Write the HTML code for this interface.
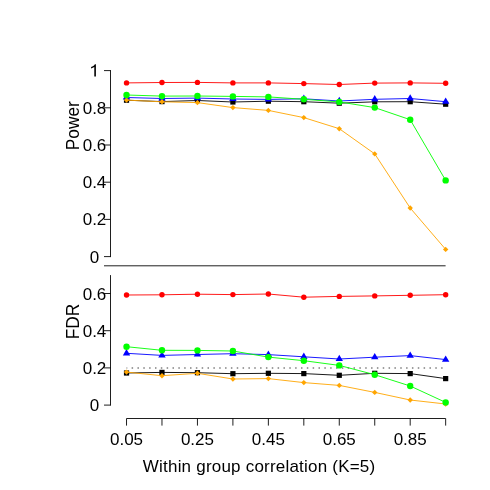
<!DOCTYPE html>
<html><head><meta charset="utf-8"><title>Power and FDR</title>
<style>
html,body{margin:0;padding:0;background:#fff;}
body{width:490px;height:490px;overflow:hidden;}
svg{display:block;will-change:transform;}
text{font-family:"Liberation Sans",sans-serif;font-size:17px;fill:#000;}
</style></head><body>
<svg width="490" height="490" viewBox="0 0 490 490">
<rect width="490" height="490" fill="#fff"/>
<path d="M110.5,70.1 V257.1" stroke="#000" stroke-width="0.88" fill="none"/>
<path d="M104,70.60 H110.5" stroke="#000" stroke-width="0.88" fill="none"/>
<path d="M104,107.80 H110.5" stroke="#000" stroke-width="0.88" fill="none"/>
<path d="M104,145.00 H110.5" stroke="#000" stroke-width="0.88" fill="none"/>
<path d="M104,182.20 H110.5" stroke="#000" stroke-width="0.88" fill="none"/>
<path d="M104,219.40 H110.5" stroke="#000" stroke-width="0.88" fill="none"/>
<path d="M104,256.60 H110.5" stroke="#000" stroke-width="0.88" fill="none"/>
<path d="M95.9,64.3 V76.5 H94.3 V67.0 C93.4,67.6 92.3,68.1 91.1,68.4 V67.0 C92.8,66.5 94.1,65.6 94.9,64.3 Z" fill="#000"/>
<text x="94.5" y="113.70" text-anchor="middle">0.8</text>
<text x="94.5" y="150.90" text-anchor="middle">0.6</text>
<text x="94.5" y="188.10" text-anchor="middle">0.4</text>
<text x="94.5" y="225.30" text-anchor="middle">0.2</text>
<text x="94.5" y="262.50" text-anchor="middle">0</text>
<path d="M104,265.8 H445.6" stroke="#000" stroke-width="0.88" fill="none"/>
<path d="M110.5,275.1 V405.6" stroke="#000" stroke-width="0.88" fill="none"/>
<path d="M104,293.50 H110.5" stroke="#000" stroke-width="0.88" fill="none"/>
<path d="M104,330.70 H110.5" stroke="#000" stroke-width="0.88" fill="none"/>
<path d="M104,367.90 H110.5" stroke="#000" stroke-width="0.88" fill="none"/>
<path d="M104,405.10 H110.5" stroke="#000" stroke-width="0.88" fill="none"/>
<text x="94.5" y="299.60" text-anchor="middle">0.6</text>
<text x="94.5" y="336.80" text-anchor="middle">0.4</text>
<text x="94.5" y="374.00" text-anchor="middle">0.2</text>
<text x="94.5" y="411.20" text-anchor="middle">0</text>
<path d="M126.52,367.9 H443.66" stroke="#7F7F7F" stroke-width="1.5" stroke-dasharray="1.5 4.34" stroke-dashoffset="0.75" fill="none"/>
<path d="M126.52,418.5 H445.66" stroke="#000" stroke-width="0.88" fill="none"/>
<path d="M126.52,418.5 V425.6" stroke="#000" stroke-width="0.88" fill="none"/>
<path d="M161.98,418.5 V425.6" stroke="#000" stroke-width="0.88" fill="none"/>
<path d="M197.44,418.5 V425.6" stroke="#000" stroke-width="0.88" fill="none"/>
<path d="M232.90,418.5 V425.6" stroke="#000" stroke-width="0.88" fill="none"/>
<path d="M268.36,418.5 V425.6" stroke="#000" stroke-width="0.88" fill="none"/>
<path d="M303.82,418.5 V425.6" stroke="#000" stroke-width="0.88" fill="none"/>
<path d="M339.28,418.5 V425.6" stroke="#000" stroke-width="0.88" fill="none"/>
<path d="M374.74,418.5 V425.6" stroke="#000" stroke-width="0.88" fill="none"/>
<path d="M410.20,418.5 V425.6" stroke="#000" stroke-width="0.88" fill="none"/>
<path d="M445.66,418.5 V425.6" stroke="#000" stroke-width="0.88" fill="none"/>
<text x="126.52" y="444.6" text-anchor="middle">0.05</text>
<text x="197.44" y="444.6" text-anchor="middle">0.25</text>
<text x="268.36" y="444.6" text-anchor="middle">0.45</text>
<text x="339.28" y="444.6" text-anchor="middle">0.65</text>
<text x="410.20" y="444.6" text-anchor="middle">0.85</text>
<text x="142.8" y="471.6" textLength="232.4" lengthAdjust="spacing">Within group correlation (K=5)</text>
<text transform="translate(78.6,125.7) rotate(-90) scale(1,1.06)" text-anchor="middle" style="font-size:17.3px">Power</text>
<text transform="translate(78.6,321.6) rotate(-90) scale(1,1.06)" text-anchor="middle" style="font-size:17.3px">FDR</text>
<polyline points="126.52,100.20 161.98,101.60 197.44,100.50 232.90,102.00 268.36,101.20 303.82,101.70 339.28,103.20 374.74,101.80 410.20,101.70 445.66,104.20" fill="none" stroke="#000000" stroke-width="0.9"/>
<rect x="123.92" y="97.60" width="5.2" height="5.2" fill="#000000"/>
<rect x="159.38" y="99.00" width="5.2" height="5.2" fill="#000000"/>
<rect x="194.84" y="97.90" width="5.2" height="5.2" fill="#000000"/>
<rect x="230.30" y="99.40" width="5.2" height="5.2" fill="#000000"/>
<rect x="265.76" y="98.60" width="5.2" height="5.2" fill="#000000"/>
<rect x="301.22" y="99.10" width="5.2" height="5.2" fill="#000000"/>
<rect x="336.68" y="100.60" width="5.2" height="5.2" fill="#000000"/>
<rect x="372.14" y="99.20" width="5.2" height="5.2" fill="#000000"/>
<rect x="407.60" y="99.10" width="5.2" height="5.2" fill="#000000"/>
<rect x="443.06" y="101.60" width="5.2" height="5.2" fill="#000000"/>
<polyline points="126.52,97.50 161.98,98.50 197.44,98.10 232.90,99.00 268.36,99.40 303.82,98.80 339.28,101.00 374.74,99.30 410.20,98.50 445.66,101.70" fill="none" stroke="#0000FF" stroke-width="0.9"/>
<polygon points="126.52,93.30 130.22,99.60 122.82,99.60" fill="#0000FF"/>
<polygon points="161.98,94.30 165.68,100.60 158.28,100.60" fill="#0000FF"/>
<polygon points="197.44,93.90 201.14,100.20 193.74,100.20" fill="#0000FF"/>
<polygon points="232.90,94.80 236.60,101.10 229.20,101.10" fill="#0000FF"/>
<polygon points="268.36,95.20 272.06,101.50 264.66,101.50" fill="#0000FF"/>
<polygon points="303.82,94.60 307.52,100.90 300.12,100.90" fill="#0000FF"/>
<polygon points="339.28,96.80 342.98,103.10 335.58,103.10" fill="#0000FF"/>
<polygon points="374.74,95.10 378.44,101.40 371.04,101.40" fill="#0000FF"/>
<polygon points="410.20,94.30 413.90,100.60 406.50,100.60" fill="#0000FF"/>
<polygon points="445.66,97.50 449.36,103.80 441.96,103.80" fill="#0000FF"/>
<polyline points="126.52,100.10 161.98,101.80 197.44,102.60 232.90,107.60 268.36,110.40 303.82,117.60 339.28,128.70 374.74,153.90 410.20,208.00 445.66,249.40" fill="none" stroke="#FFA500" stroke-width="0.9"/>
<polygon points="123.82,100.10 126.52,97.40 129.22,100.10 126.52,102.80" fill="#FFA500"/>
<polygon points="159.28,101.80 161.98,99.10 164.68,101.80 161.98,104.50" fill="#FFA500"/>
<polygon points="194.74,102.60 197.44,99.90 200.14,102.60 197.44,105.30" fill="#FFA500"/>
<polygon points="230.20,107.60 232.90,104.90 235.60,107.60 232.90,110.30" fill="#FFA500"/>
<polygon points="265.66,110.40 268.36,107.70 271.06,110.40 268.36,113.10" fill="#FFA500"/>
<polygon points="301.12,117.60 303.82,114.90 306.52,117.60 303.82,120.30" fill="#FFA500"/>
<polygon points="336.58,128.70 339.28,126.00 341.98,128.70 339.28,131.40" fill="#FFA500"/>
<polygon points="372.04,153.90 374.74,151.20 377.44,153.90 374.74,156.60" fill="#FFA500"/>
<polygon points="407.50,208.00 410.20,205.30 412.90,208.00 410.20,210.70" fill="#FFA500"/>
<polygon points="442.96,249.40 445.66,246.70 448.36,249.40 445.66,252.10" fill="#FFA500"/>
<polyline points="126.52,95.00 161.98,96.10 197.44,96.00 232.90,96.40 268.36,96.90 303.82,99.30 339.28,101.90 374.74,107.60 410.20,119.70 445.66,180.40" fill="none" stroke="#00FF00" stroke-width="0.9"/>
<circle cx="126.52" cy="95.00" r="3.2" fill="#00FF00"/>
<circle cx="161.98" cy="96.10" r="3.2" fill="#00FF00"/>
<circle cx="197.44" cy="96.00" r="3.2" fill="#00FF00"/>
<circle cx="232.90" cy="96.40" r="3.2" fill="#00FF00"/>
<circle cx="268.36" cy="96.90" r="3.2" fill="#00FF00"/>
<circle cx="303.82" cy="99.30" r="3.2" fill="#00FF00"/>
<circle cx="339.28" cy="101.90" r="3.2" fill="#00FF00"/>
<circle cx="374.74" cy="107.60" r="3.2" fill="#00FF00"/>
<circle cx="410.20" cy="119.70" r="3.2" fill="#00FF00"/>
<circle cx="445.66" cy="180.40" r="3.2" fill="#00FF00"/>
<polyline points="126.52,82.90 161.98,82.50 197.44,82.40 232.90,82.90 268.36,82.90 303.82,83.60 339.28,84.50 374.74,83.10 410.20,82.90 445.66,83.30" fill="none" stroke="#FF0000" stroke-width="0.9"/>
<circle cx="126.52" cy="82.90" r="2.7" fill="#FF0000"/>
<circle cx="161.98" cy="82.50" r="2.7" fill="#FF0000"/>
<circle cx="197.44" cy="82.40" r="2.7" fill="#FF0000"/>
<circle cx="232.90" cy="82.90" r="2.7" fill="#FF0000"/>
<circle cx="268.36" cy="82.90" r="2.7" fill="#FF0000"/>
<circle cx="303.82" cy="83.60" r="2.7" fill="#FF0000"/>
<circle cx="339.28" cy="84.50" r="2.7" fill="#FF0000"/>
<circle cx="374.74" cy="83.10" r="2.7" fill="#FF0000"/>
<circle cx="410.20" cy="82.90" r="2.7" fill="#FF0000"/>
<circle cx="445.66" cy="83.30" r="2.7" fill="#FF0000"/>
<polyline points="126.52,373.00 161.98,372.40 197.44,372.70 232.90,373.70 268.36,373.30 303.82,373.60 339.28,375.30 374.74,373.30 410.20,373.60 445.66,378.60" fill="none" stroke="#000000" stroke-width="0.9"/>
<rect x="123.92" y="370.40" width="5.2" height="5.2" fill="#000000"/>
<rect x="159.38" y="369.80" width="5.2" height="5.2" fill="#000000"/>
<rect x="194.84" y="370.10" width="5.2" height="5.2" fill="#000000"/>
<rect x="230.30" y="371.10" width="5.2" height="5.2" fill="#000000"/>
<rect x="265.76" y="370.70" width="5.2" height="5.2" fill="#000000"/>
<rect x="301.22" y="371.00" width="5.2" height="5.2" fill="#000000"/>
<rect x="336.68" y="372.70" width="5.2" height="5.2" fill="#000000"/>
<rect x="372.14" y="370.70" width="5.2" height="5.2" fill="#000000"/>
<rect x="407.60" y="371.00" width="5.2" height="5.2" fill="#000000"/>
<rect x="443.06" y="376.00" width="5.2" height="5.2" fill="#000000"/>
<polyline points="126.52,353.30 161.98,355.40 197.44,354.50 232.90,353.70 268.36,354.60 303.82,356.80 339.28,359.00 374.74,357.20 410.20,355.60 445.66,359.60" fill="none" stroke="#0000FF" stroke-width="0.9"/>
<polygon points="126.52,349.10 130.22,355.40 122.82,355.40" fill="#0000FF"/>
<polygon points="161.98,351.20 165.68,357.50 158.28,357.50" fill="#0000FF"/>
<polygon points="197.44,350.30 201.14,356.60 193.74,356.60" fill="#0000FF"/>
<polygon points="232.90,349.50 236.60,355.80 229.20,355.80" fill="#0000FF"/>
<polygon points="268.36,350.40 272.06,356.70 264.66,356.70" fill="#0000FF"/>
<polygon points="303.82,352.60 307.52,358.90 300.12,358.90" fill="#0000FF"/>
<polygon points="339.28,354.80 342.98,361.10 335.58,361.10" fill="#0000FF"/>
<polygon points="374.74,353.00 378.44,359.30 371.04,359.30" fill="#0000FF"/>
<polygon points="410.20,351.40 413.90,357.70 406.50,357.70" fill="#0000FF"/>
<polygon points="445.66,355.40 449.36,361.70 441.96,361.70" fill="#0000FF"/>
<polyline points="126.52,372.10 161.98,375.70 197.44,373.30 232.90,379.00 268.36,378.60 303.82,382.60 339.28,385.40 374.74,392.40 410.20,400.00 445.66,404.00" fill="none" stroke="#FFA500" stroke-width="0.9"/>
<polygon points="123.82,372.10 126.52,369.40 129.22,372.10 126.52,374.80" fill="#FFA500"/>
<polygon points="159.28,375.70 161.98,373.00 164.68,375.70 161.98,378.40" fill="#FFA500"/>
<polygon points="194.74,373.30 197.44,370.60 200.14,373.30 197.44,376.00" fill="#FFA500"/>
<polygon points="230.20,379.00 232.90,376.30 235.60,379.00 232.90,381.70" fill="#FFA500"/>
<polygon points="265.66,378.60 268.36,375.90 271.06,378.60 268.36,381.30" fill="#FFA500"/>
<polygon points="301.12,382.60 303.82,379.90 306.52,382.60 303.82,385.30" fill="#FFA500"/>
<polygon points="336.58,385.40 339.28,382.70 341.98,385.40 339.28,388.10" fill="#FFA500"/>
<polygon points="372.04,392.40 374.74,389.70 377.44,392.40 374.74,395.10" fill="#FFA500"/>
<polygon points="407.50,400.00 410.20,397.30 412.90,400.00 410.20,402.70" fill="#FFA500"/>
<polygon points="442.96,404.00 445.66,401.30 448.36,404.00 445.66,406.70" fill="#FFA500"/>
<polyline points="126.52,346.70 161.98,350.30 197.44,350.40 232.90,351.00 268.36,357.10 303.82,360.70 339.28,365.40 374.74,374.70 410.20,386.00 445.66,402.40" fill="none" stroke="#00FF00" stroke-width="0.9"/>
<circle cx="126.52" cy="346.70" r="3.2" fill="#00FF00"/>
<circle cx="161.98" cy="350.30" r="3.2" fill="#00FF00"/>
<circle cx="197.44" cy="350.40" r="3.2" fill="#00FF00"/>
<circle cx="232.90" cy="351.00" r="3.2" fill="#00FF00"/>
<circle cx="268.36" cy="357.10" r="3.2" fill="#00FF00"/>
<circle cx="303.82" cy="360.70" r="3.2" fill="#00FF00"/>
<circle cx="339.28" cy="365.40" r="3.2" fill="#00FF00"/>
<circle cx="374.74" cy="374.70" r="3.2" fill="#00FF00"/>
<circle cx="410.20" cy="386.00" r="3.2" fill="#00FF00"/>
<circle cx="445.66" cy="402.40" r="3.2" fill="#00FF00"/>
<polyline points="126.52,295.00 161.98,294.80 197.44,294.20 232.90,294.60 268.36,294.00 303.82,297.20 339.28,296.40 374.74,295.90 410.20,295.30 445.66,294.70" fill="none" stroke="#FF0000" stroke-width="0.9"/>
<circle cx="126.52" cy="295.00" r="2.7" fill="#FF0000"/>
<circle cx="161.98" cy="294.80" r="2.7" fill="#FF0000"/>
<circle cx="197.44" cy="294.20" r="2.7" fill="#FF0000"/>
<circle cx="232.90" cy="294.60" r="2.7" fill="#FF0000"/>
<circle cx="268.36" cy="294.00" r="2.7" fill="#FF0000"/>
<circle cx="303.82" cy="297.20" r="2.7" fill="#FF0000"/>
<circle cx="339.28" cy="296.40" r="2.7" fill="#FF0000"/>
<circle cx="374.74" cy="295.90" r="2.7" fill="#FF0000"/>
<circle cx="410.20" cy="295.30" r="2.7" fill="#FF0000"/>
<circle cx="445.66" cy="294.70" r="2.7" fill="#FF0000"/>
</svg>
</body></html>
